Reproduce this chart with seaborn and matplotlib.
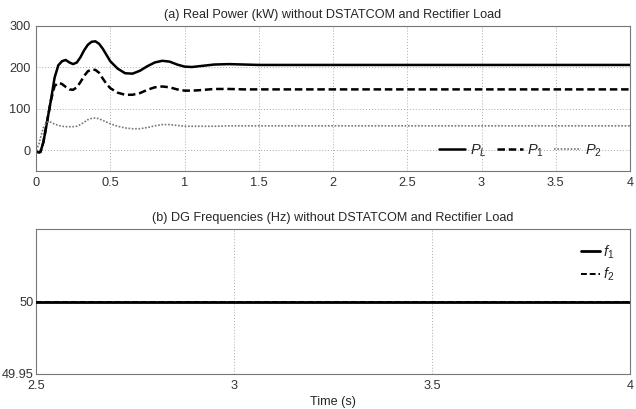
import numpy as np
import pandas as pd
import matplotlib
matplotlib.use("Agg")
import matplotlib.pyplot as plt
from matplotlib.ticker import FormatStrFormatter
import seaborn as sns

# Real power traces (kW) sampled over time (s)
time_s = [0, 0.02, 0.03, 0.05, 0.075, 0.1, 0.125, 0.15, 0.175, 0.2, 0.225, 0.25,
          0.275, 0.3, 0.325, 0.35, 0.375, 0.4, 0.425, 0.45, 0.475, 0.5, 0.55, 0.6,
          0.65, 0.7, 0.75, 0.8, 0.85, 0.9, 0.95, 1.0, 1.05, 1.1, 1.2, 1.3, 1.4, 1.5,
          1.7, 2.0, 3.0, 4.0]
p_load = [-3, -5, -4, 20, 70, 120, 175, 205, 215, 218, 212, 208, 212, 225, 242, 255,
          262, 263, 257, 245, 230, 215, 197, 186, 185, 192, 203, 212, 216, 214, 207,
          202, 201, 203, 207, 208, 207, 206, 206, 206, 206, 206]
p_dg1 = [-3, -5, -4, 20, 70, 120, 155, 163, 160, 153, 147, 146, 152, 165, 180, 191,
         195, 194, 187, 173, 160, 150, 139, 134, 134, 138, 146, 152, 154, 152, 147,
         144, 144, 145, 148, 148, 147, 147, 147, 147, 147, 147]
p_dg2 = [0, 15, 30, 55, 68, 68, 63, 60, 58, 57, 57, 57, 58, 62, 68, 74, 77, 78, 76,
         72, 68, 64, 58, 54, 52, 52, 55, 59, 62, 62, 60, 58, 58, 58, 58, 59, 59, 59,
         59, 59, 59, 59]

# DG frequencies (Hz)
freq_time = [2.5, 4.0]
f_dg1 = [50.0, 50.0]
f_dg2 = [50.0, 50.0]

sns.set_style("white")
plt.rcParams["font.family"] = ["Liberation Sans", "DejaVu Sans"]
plt.rcParams["mathtext.fontset"] = "custom"
plt.rcParams["mathtext.rm"] = "Liberation Sans"
plt.rcParams["mathtext.it"] = "Liberation Sans:italic"
plt.rcParams["font.size"] = 9

fig = plt.figure(figsize=(6.36, 4.09), dpi=100)
ax1 = fig.add_axes([36 / 636, 1 - 171 / 409, 594 / 636, 145 / 409])
ax2 = fig.add_axes([36 / 636, 1 - 374 / 409, 594 / 636, 145 / 409])

power = pd.DataFrame({"t": time_s, "PL": p_load, "P1": p_dg1, "P2": p_dg2})
sns.lineplot(data=power, x="t", y="PL", ax=ax1, color="black", lw=1.8,
             label="$P_L$")
sns.lineplot(data=power, x="t", y="P1", ax=ax1, color="black", lw=1.8,
             linestyle=(0, (3, 1.5)), label="$P_1$")
sns.lineplot(data=power, x="t", y="P2", ax=ax1, color="#777777", lw=1.2,
             linestyle=(0, (1, 1)), label="$P_2$")

freq = pd.DataFrame({"t": freq_time, "f1": f_dg1, "f2": f_dg2})
sns.lineplot(data=freq, x="t", y="f2", ax=ax2, color="black", lw=1.4,
             linestyle=(0, (3, 1.5)), label="$f_2$", zorder=2)
sns.lineplot(data=freq, x="t", y="f1", ax=ax2, color="black", lw=2.0,
             label="$f_1$", zorder=3)

for ax in (ax1, ax2):
    ax.grid(True, linestyle=(0, (1, 2)), color="#aaaaaa", lw=0.7)
    ax.tick_params(direction="in", length=3, colors="#333333", labelsize=9.2,
                   pad=4)
    for s in ax.spines.values():
        s.set_color("#777777")
        s.set_linewidth(0.8)
    ax.set_ylabel("")
    ax.xaxis.set_major_formatter(FormatStrFormatter("%g"))
    ax.yaxis.set_major_formatter(FormatStrFormatter("%g"))

ax1.set_xlim(0, 4)
ax1.set_ylim(-50, 300)
ax1.set_xticks(np.arange(0, 4.01, 0.5))
ax1.set_yticks([0, 100, 200, 300])
ax1.set_xlabel("")
ax1.set_title("(a) Real Power (kW) without DSTATCOM and Rectifier Load",
              fontsize=9.1, pad=6)
ax1.legend(loc="lower right", ncol=3, frameon=False, handlelength=1.8,
           columnspacing=0.7, handletextpad=0.3, fontsize=10.5,
           bbox_to_anchor=(0.975, -0.005))

ax2.set_xlim(2.5, 4)
ax2.set_ylim(49.95, 50.05)
ax2.set_xticks([2.5, 3, 3.5, 4])
ax2.set_yticks([49.95, 50])
ax2.tick_params(axis="y", pad=1.5)
ax2.grid(False, axis="y")
ax2.set_xlabel("Time (s)", fontsize=9.1, labelpad=3)
ax2.set_title("(b) DG Frequencies (Hz) without DSTATCOM and Rectifier Load",
              fontsize=9.1, pad=6)
h, l = ax2.get_legend_handles_labels()
ax2.legend(h[::-1], l[::-1], loc="upper right", frameon=False,
           handlelength=1.3, handletextpad=0.2, fontsize=10.5,
           labelspacing=0.35, bbox_to_anchor=(0.995, 0.99))

fig.savefig("out.png", dpi=100)
